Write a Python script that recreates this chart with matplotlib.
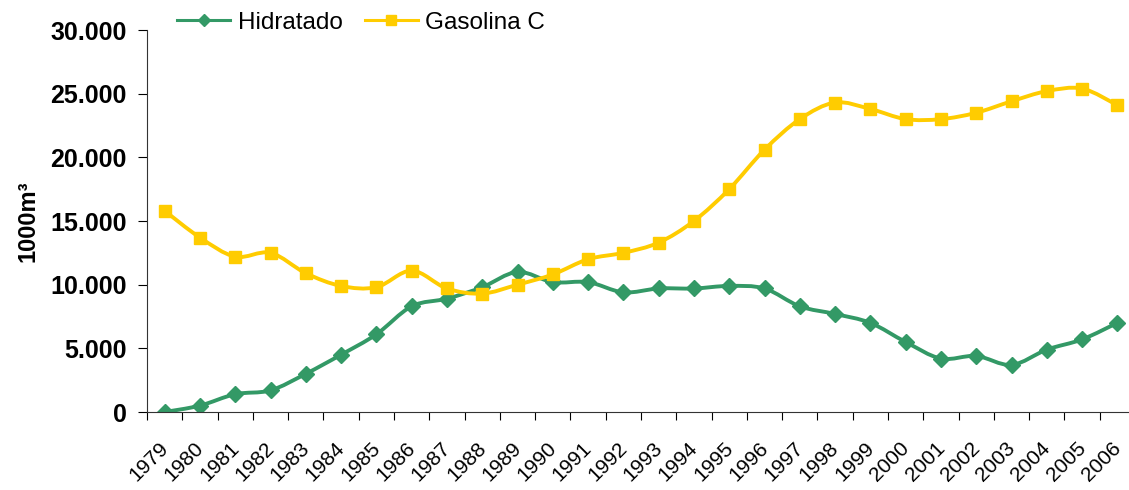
import numpy as np
import matplotlib.pyplot as plt
from matplotlib.path import Path
from matplotlib.patches import PathPatch
from matplotlib.lines import Line2D
from matplotlib.ticker import FuncFormatter, FixedLocator
from matplotlib.transforms import ScaledTranslation

plt.rcParams['font.family'] = ['Liberation Sans', 'DejaVu Sans']

years = [str(y) for y in range(1979, 2007)]
hidratado = [0, 500, 1400, 1700, 3000, 4500, 6100, 8300, 8900, 9800,
             11000, 10200, 10200, 9400, 9700, 9700, 9900, 9700, 8300, 7700,
             7000, 5500, 4200, 4400, 3700, 4900, 5700, 7000]
gasolina = [15800, 13700, 12200, 12500, 10900, 9900, 9800, 11100, 9700, 9300,
            10000, 10800, 12000, 12500, 13300, 15000, 17500, 20600, 23000, 24300,
            23800, 23000, 23000, 23500, 24400, 25200, 25400, 24100]

GREEN = '#339966'
YELLOW = '#FFCC00'


def smooth_path(xs, ys):
    # Excel-like smoothed line: cubic bezier through every point
    pts = np.column_stack([xs, ys]).astype(float)
    n = len(pts)
    verts = [pts[0]]
    codes = [Path.MOVETO]
    for i in range(n - 1):
        p0 = pts[max(i - 1, 0)]
        p1 = pts[i]
        p2 = pts[i + 1]
        p3 = pts[min(i + 2, n - 1)]
        verts += [p1 + (p2 - p0) / 6, p2 - (p3 - p1) / 6, p2]
        codes += [Path.CURVE4] * 3
    return Path(verts, codes)


fig = plt.figure(figsize=(11.29, 4.90), dpi=100)
ax = fig.add_axes([147 / 1129, 78 / 490, 988 / 1129, 382 / 490])

x = np.arange(len(years))
series = [(hidratado, GREEN, 'D', 8, 'Hidratado'),
          (gasolina, YELLOW, 's', 8.5, 'Gasolina C')]
handles = []
for vals, col, mk, ms, name in series:
    ax.add_patch(PathPatch(smooth_path(x, vals), fill=False, edgecolor=col,
                           lw=2.8, capstyle='round', joinstyle='round'))
    ax.plot(x, vals, linestyle='none', marker=mk, markersize=ms, color=col,
            markeredgecolor=col)
    handles.append(Line2D([], [], color=col, lw=2.2, marker=mk, markersize=ms - 1.5,
                          markeredgecolor=col, label=name))

ax.set_xlim(-0.5, len(years) - 0.5)
ax.set_ylim(0, 30000)
ax.set_yticks(range(0, 30001, 5000))
ax.yaxis.set_major_formatter(FuncFormatter(lambda v, p: f"{v:,.0f}".replace(',', '.')))
for lab in ax.get_yticklabels():
    lab.set_fontweight('bold')
ax.tick_params(axis='y', labelsize=18, length=6.5, width=0.8, pad=8)

ax.xaxis.set_major_locator(FixedLocator(np.arange(-0.5, len(years), 1)))
ax.set_xticklabels([])
ax.set_xticks(x, years, minor=True)
ax.tick_params(axis='x', which='major', length=5.5, width=0.8)
ax.tick_params(axis='x', which='minor', length=0, labelsize=15, pad=19)
shift = ScaledTranslation(-0.06, 0, fig.dpi_scale_trans)
for lab in ax.get_xticklabels(minor=True):
    lab.set_rotation(45)
    lab.set_ha('right')
    lab.set_rotation_mode('anchor')
    lab.set_transform(lab.get_transform() + shift)

for s in ['top', 'right']:
    ax.spines[s].set_visible(False)
for s in ['left', 'bottom']:
    ax.spines[s].set_color('#333333')
    ax.spines[s].set_linewidth(0.8)

ax.set_ylabel('1000m³', fontsize=17, fontweight='bold')
ax.yaxis.set_label_coords(-108 / 988, 0.5)

fig.legend(handles=handles, loc='center left', bbox_to_anchor=(177 / 1129, 1 - 23 / 490),
           ncol=2, frameon=False, fontsize=17.5, handlelength=2.2,
           handletextpad=0.3, columnspacing=0.9, borderaxespad=0, borderpad=0)

fig.savefig('out.png', dpi=100)
